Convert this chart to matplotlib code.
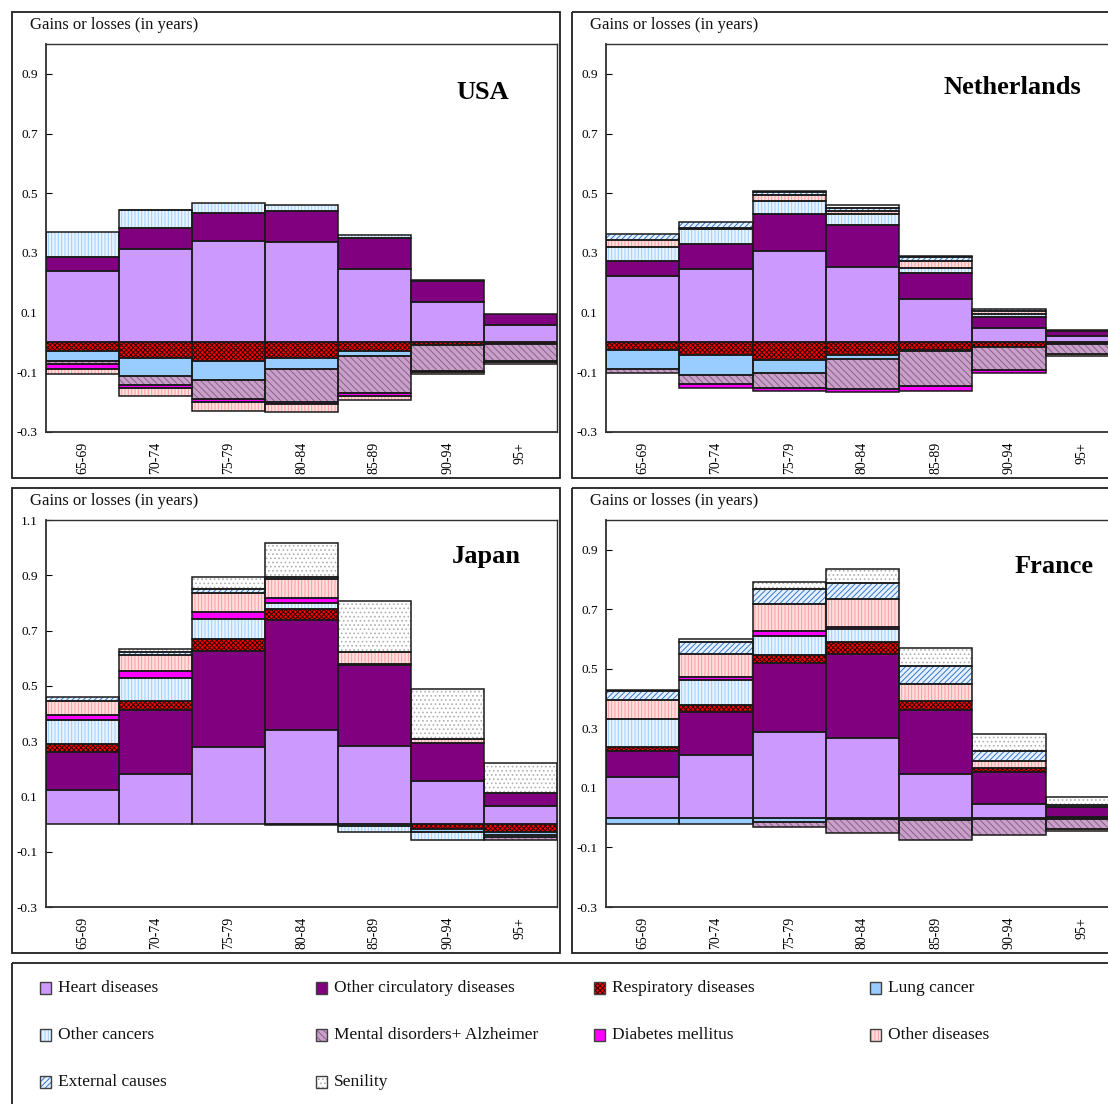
import matplotlib
matplotlib.use('Agg')
import matplotlib.pyplot as plt
from matplotlib.patches import Rectangle
import numpy as np

plt.rcParams['font.family'] = ['Liberation Serif', 'DejaVu Serif']
plt.rcParams['hatch.linewidth'] = 0.7

# ---------------- data ----------------
age_groups = ['65-69', '70-74', '75-79', '80-84', '85-89', '90-94', '95+']

causes = ['Heart diseases', 'Other circulatory diseases', 'Respiratory diseases',
          'Lung cancer', 'Other cancers', 'Mental disorders+ Alzheimer',
          'Diabetes mellitus', 'Other diseases', 'External causes', 'Senility']

# rows follow `causes`, columns follow `age_groups`
usa_values = [
    [0.239, 0.313, 0.341, 0.336, 0.247, 0.136, 0.058],
    [0.047, 0.069, 0.092, 0.106, 0.102, 0.070, 0.038],
    [-0.028, -0.051, -0.062, -0.051, -0.028, -0.007, -0.006],
    [-0.033, -0.061, -0.063, -0.038, -0.018, 0.0, 0.0],
    [0.085, 0.061, 0.033, 0.020, 0.011, 0.003, 0.0],
    [-0.011, -0.030, -0.063, -0.109, -0.124, -0.088, -0.055],
    [-0.016, -0.011, -0.011, -0.007, -0.008, -0.004, -0.003],
    [-0.019, -0.025, -0.029, -0.029, -0.016, -0.006, -0.009],
    [0.0, 0.002, 0.0, 0.0, 0.0, 0.0, 0.0],
    [0.0, 0.0, 0.0, 0.0, 0.0, 0.0, 0.0],
]

netherlands_values = [
    [0.222, 0.247, 0.305, 0.254, 0.144, 0.047, 0.022],
    [0.051, 0.082, 0.127, 0.140, 0.090, 0.039, 0.016],
    [-0.026, -0.043, -0.060, -0.043, -0.026, -0.016, -0.004],
    [-0.063, -0.065, -0.041, -0.011, -0.002, 0.0, 0.0],
    [0.046, 0.050, 0.042, 0.035, 0.016, 0.008, 0.0],
    [-0.012, -0.032, -0.053, -0.102, -0.117, -0.076, -0.033],
    [0.0, -0.011, -0.009, -0.011, -0.016, -0.009, 0.0],
    [0.023, 0.003, 0.020, 0.011, 0.024, 0.012, -0.008],
    [0.022, 0.020, 0.011, 0.010, 0.013, 0.007, 0.005],
    [0.0, 0.0, 0.004, 0.010, 0.002, 0.0, 0.0],
]

japan_values = [
    [0.123, 0.182, 0.278, 0.339, 0.283, 0.157, 0.065],
    [0.137, 0.230, 0.347, 0.400, 0.293, 0.135, 0.046],
    [0.029, 0.035, 0.046, 0.038, 0.003, -0.018, -0.027],
    [0.0, 0.0, 0.0, 0.0, -0.008, -0.009, -0.012],
    [0.087, 0.082, 0.072, 0.024, -0.022, -0.030, -0.008],
    [0.0, 0.0, 0.0, -0.005, 0.0, 0.0, -0.012],
    [0.018, 0.023, 0.024, 0.016, 0.0, 0.0, 0.0],
    [0.053, 0.059, 0.070, 0.069, 0.044, 0.015, 0.0],
    [0.014, 0.013, 0.012, 0.008, 0.0, 0.0, 0.0],
    [0.0, 0.010, 0.044, 0.122, 0.185, 0.182, 0.109],
]

france_values = [
    [0.137, 0.210, 0.287, 0.267, 0.148, 0.047, 0.002],
    [0.086, 0.146, 0.232, 0.282, 0.213, 0.106, 0.033],
    [0.014, 0.024, 0.029, 0.041, 0.032, 0.014, -0.004],
    [-0.021, -0.021, -0.015, -0.006, -0.008, -0.004, 0.0],
    [0.093, 0.084, 0.064, 0.043, 0.0, 0.0, 0.0],
    [0.0, 0.0, -0.016, -0.046, -0.067, -0.054, -0.034],
    [0.0, 0.008, 0.014, 0.008, 0.0, 0.0, 0.0],
    [0.066, 0.077, 0.093, 0.094, 0.055, 0.022, -0.007],
    [0.029, 0.041, 0.048, 0.055, 0.060, 0.035, 0.006],
    [0.003, 0.009, 0.024, 0.044, 0.062, 0.056, 0.030],
]

y_ticks_small = [-0.3, -0.1, 0.1, 0.3, 0.5, 0.7, 0.9]
y_ticks_large = [-0.3, -0.1, 0.1, 0.3, 0.5, 0.7, 0.9, 1.1]

# ---------------- styles ----------------
cause_face = ['#CC99FF', '#800080', '#FF0000', '#99CCFF', '#EAF4FF',
              '#C9A0C9', '#FF00FF', '#FFE0E0', '#E6F0FF', '#FFFFFF']
cause_hatch = [None, None, 'xxxxxxx', None, '|||||', '\\\\\\\\\\', None, '|||||', '//////', '....']
cause_hatch_color = ['#CC99FF', '#800080', '#2a0000', '#99CCFF', '#99CCFF',
                     '#8A608A', '#FF00FF', '#FF9999', '#3377CC', '#B0B0B0']
edge_col = '#1a1a1a'

W, H = 1108, 1104
fig = plt.figure(figsize=(W / 100, H / 100), dpi=100)


def fig_rect(x0, y0, x1, y1):
    """pixel box (top-left origin) -> figure fraction [l, b, w, h]"""
    return [x0 / W, 1 - y1 / H, (x1 - x0) / W, (y1 - y0) / H]


panels = [
    dict(name='USA', values=usa_values, top=1.0, ticks=y_ticks_small,
         box=(12, 12, 560, 478), axbox=(46, 44, 557, 432), title_xy=(0.855, 0.876)),
    dict(name='Netherlands', values=netherlands_values, top=1.0, ticks=y_ticks_small,
         box=(572, 12, 1130, 478), axbox=(606, 44, 1119, 432), title_xy=(0.793, 0.889)),
    dict(name='Japan', values=japan_values, top=1.1, ticks=y_ticks_large,
         box=(12, 488, 560, 953), axbox=(46, 520, 557, 907), title_xy=(0.861, 0.905)),
    dict(name='France', values=france_values, top=1.0, ticks=y_ticks_small,
         box=(572, 488, 1130, 953), axbox=(606, 520, 1119, 907), title_xy=(0.873, 0.881)),
]

# background axes for frames / legend (pixel coordinates)
bg = fig.add_axes([0, 0, 1, 1], zorder=0)
bg.set_xlim(0, W)
bg.set_ylim(H, 0)
bg.axis('off')

for p in panels:
    x0, y0, x1, y1 = p['box']
    bg.add_patch(Rectangle((x0, y0), x1 - x0, y1 - y0, fill=False,
                           edgecolor='#202020', lw=1.3))
    bg.text(x0 + 18, y0 + 13, 'Gains or losses (in years)', fontsize=12,
            ha='left', va='center', color='#111111')

    ax = fig.add_axes(fig_rect(*p['axbox']), zorder=2)
    ax.patch.set_alpha(0)
    x = np.arange(len(age_groups))
    pos_bottom = np.zeros(len(age_groups))
    neg_bottom = np.zeros(len(age_groups))
    for i, cause in enumerate(causes):
        v = np.array(p['values'][i], dtype=float)
        bottom = np.where(v >= 0, pos_bottom, neg_bottom)
        m = v != 0
        if m.any():
            ax.bar(x[m], v[m], bottom=bottom[m], width=1.0, align='center',
                   color=cause_face[i], hatch=cause_hatch[i],
                   edgecolor=cause_hatch_color[i], linewidth=0, zorder=2)
            ax.bar(x[m], v[m], bottom=bottom[m], width=1.0, align='center',
                   fill=False, edgecolor=edge_col, linewidth=1.1, zorder=3)
        pos_bottom += np.clip(v, 0, None)
        neg_bottom += np.clip(v, None, 0)

    ax.set_xlim(-0.5, len(age_groups) - 0.5)
    ax.set_ylim(-0.3, p['top'])
    ax.set_yticks(p['ticks'])
    ax.set_yticklabels([f'{t:.1f}' for t in p['ticks']], fontsize=9.5)
    ax.set_xticks(x)
    ax.set_xticklabels(age_groups, rotation=90, fontsize=10, va='top', ha='center')
    ax.tick_params(axis='x', length=0, pad=7)
    ax.tick_params(axis='y', direction='in', length=4, width=0.8, pad=6, right=False)
    for s in ax.spines.values():
        s.set_color('#303030')
        s.set_linewidth(1.0)
    ax.spines['left'].set_linewidth(1.3)
    ax.spines['bottom'].set_linewidth(1.3)
    ax.text(p['title_xy'][0], p['title_xy'][1], p['name'], transform=ax.transAxes,
            fontsize=19, fontweight='bold', ha='center', va='center')

# legend box
bg.add_patch(Rectangle((12, 963), 1130 - 12, 160, fill=False, edgecolor='#202020', lw=1.3))
leg_cols = [40, 316, 594, 870]
leg_rows = [988, 1035, 1082]
for i, cause in enumerate(causes):
    cx = leg_cols[i % 4]
    cy = leg_rows[i // 4]
    bg.add_patch(Rectangle((cx, cy - 6), 11, 12, facecolor=cause_face[i],
                           hatch=cause_hatch[i], edgecolor=cause_hatch_color[i], lw=0))
    bg.add_patch(Rectangle((cx, cy - 6), 11, 12, fill=False, edgecolor='#404040', lw=1.0))
    bg.text(cx + 18, cy, cause, fontsize=12.5, ha='left', va='center', color='#111111')

fig.savefig('out.png', dpi=100)
